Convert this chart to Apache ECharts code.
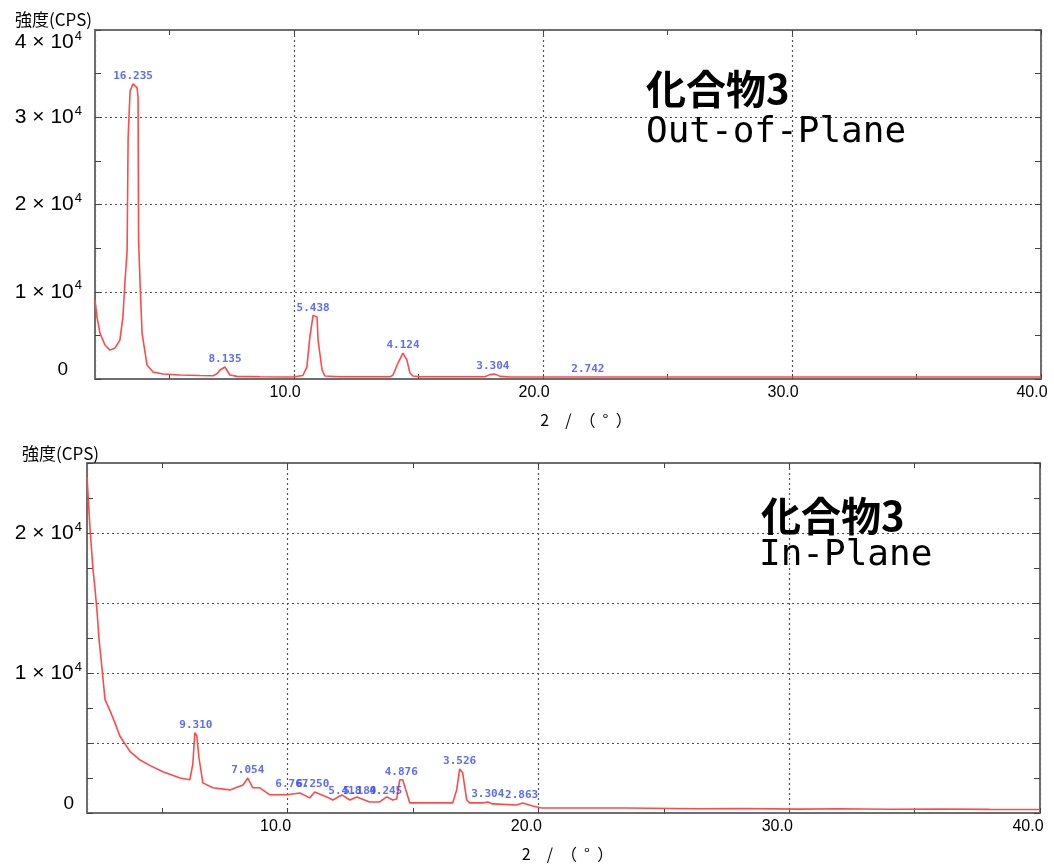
<!DOCTYPE html>
<html>
<head>
<meta charset="utf-8">
<script src="https://cdn.jsdelivr.net/npm/echarts@6/dist/echarts.min.js"></script>
<style>html,body{margin:0;padding:0;background:#fff}#c{width:1054px;height:866px}</style>
</head>
<body>
<div id="c"></div>
<script>
// ---- Out-of-Plane (top) ----
const opX = [2.00,2.08,2.20,2.40,2.60,2.80,3.00,3.12,3.20,3.29,3.33,3.41,3.53,3.69,3.73,3.75,3.81,3.89,4.09,4.33,4.73,5.41,6.22,6.74,6.90,7.02,7.22,7.42,7.70,8.63,9.95,10.35,10.51,10.63,10.76,10.92,10.96,11.12,11.24,11.84,13.85,13.97,14.17,14.37,14.53,14.65,14.77,15.05,17.66,17.86,18.07,18.27,18.67,22.0,26.0,30.0,34.0,40.0];
const opY = [9030,7090,5260,3890,3310,3540,4460,7090,10970,14700,27660,33030,33830,33370,32230,16000,10970,5260,1600,800,570,460,400,380,600,1030,1370,460,300,260,230,400,1370,4800,7300,7090,4460,1030,340,250,250,460,1830,2970,2170,690,340,250,250,500,560,300,230,230,230,230,230,230];
const opPeakX = [3.53,7.22,10.76,14.37,17.98,21.8];
const opPeakY = [33830,1370,7300,2970,560,230];
const opPeakText = ["16.235","8.135","5.438","4.124","3.304","2.742"];

// ---- In-Plane (bottom) ----
const ipX = [2.00,2.12,2.24,2.32,2.40,2.48,2.56,2.72,2.92,3.12,3.31,3.71,4.10,4.50,5.03,5.71,6.10,6.22,6.30,6.38,6.46,6.62,7.02,7.70,8.22,8.41,8.61,8.89,9.29,9.97,10.49,10.88,11.08,11.56,11.80,12.16,12.48,12.76,13.27,13.67,13.95,14.19,14.35,14.47,14.59,14.75,14.87,16.58,16.74,16.86,16.98,17.14,17.26,17.78,17.98,18.18,19.13,19.37,19.77,20.13,23.51,26.4,28.0,30.4,32.0,34.0,36.0,38.0,40.0];
const ipY = [24000,20300,17400,16000,14400,12400,11000,8100,7300,6400,5500,4400,3800,3400,2940,2500,2370,3500,5740,5500,4000,2150,1800,1650,2000,2500,1800,1800,1300,1300,1430,1080,1500,1150,930,1290,930,1150,790,790,1150,930,1000,2370,2370,1430,720,720,1650,3150,2870,930,720,720,790,650,570,720,500,360,360,300,320,280,300,270,290,260,250];
const ipPeakX = [6.34,8.41,10.17,11.00,12.28,12.88,13.91,14.53,16.86,17.98,19.33];
const ipPeakY = [5740,2500,1500,1500,1000,1000,1000,2370,3150,790,720];
const ipPeakText = ["9.310","7.054","6.767","6.250","5.418","5.189","4.245","4.876","3.526","3.304","2.863"];

// ---- axis ticks / labels ----
const xLabelValues = [10,20,30,40];
const xTickValues = [5,10,15,20,25,30,35,40];
const opYLabels = {0:"0",10000:"1",20000:"2",30000:"3",40000:"4"};
const ipYLabels = {0:"0",10000:"1",20000:"2"};
const xName = '2\u3000/\u3000\uff08  \u00b0  \uff09';

const chart = echarts.init(document.getElementById('c'));
const axisColor = '#6e6e6e';
const gridLine = {show:true, lineStyle:{color:'#555', type:[2,3], width:1.2}};
const yFmt = (map) => (v) => {
  const k = map[v];
  if (k === undefined) return '';
  if (k === '0') return '{z|0}';
  return '{n|' + k + ' \u00d7 10}{s|4}';
};
const yRich = (zeroPad) => ({
  n:{fontSize:21, fontFamily:'Liberation Sans', color:'#000'},
  s:{fontSize:13, fontFamily:'Liberation Sans', color:'#000', verticalAlign:'top', padding:[0,0,12,1]},
  z:{fontSize:19, fontFamily:'Liberation Sans', color:'#000', padding:[0,zeroPad,0,0]}
});

function xAxes(gi, namePad, labelShift){
  return [
    {gridIndex:gi, type:'value', min:2, max:40, position:'bottom',
     axisLine:{show:true, onZero:false, lineStyle:{color:axisColor, width:2}},
     axisTick:{show:true, inside:true, length:5, customValues:xTickValues, lineStyle:{color:'#444'}},
     axisLabel:{show:true, customValues:xLabelValues, formatter:(v)=>v.toFixed(1), fontSize:16, fontFamily:'Liberation Sans', color:'#000', margin:6, padding:[0,labelShift,0,0]},
     splitLine:{show:false},
     name:xName, nameLocation:'middle', nameGap:33,
     nameTextStyle:{fontSize:16, fontFamily:'Noto Sans CJK JP', color:'#000', padding:[0,0,0,namePad]}},
    {gridIndex:gi, type:'value', min:2, max:40, position:'top',
     axisLine:{show:true, onZero:false, lineStyle:{color:axisColor, width:2}},
     axisTick:{show:true, inside:true, length:5, customValues:xTickValues, lineStyle:{color:'#444'}},
     axisLabel:{show:false}, splitLine:{show:false}},
    {gridIndex:gi, type:'value', min:2, max:40, position:'bottom',
     axisLine:{show:false}, axisTick:{show:false}, axisLabel:{show:false},
     splitLine:gridLine}
  ];
}
function yAxes(gi, max, interval, labels, margin, zeroPad){
  return [
    {gridIndex:gi, type:'value', min:0, max:max, interval:interval, position:'left',
     axisLine:{show:true, lineStyle:{color:axisColor, width:2}},
     axisTick:{show:true, inside:true, length:6, lineStyle:{color:'#444'}},
     minorTick:{show:true, splitNumber:2, length:6, lineStyle:{color:'#444'}},
     axisLabel:{show:true, formatter:yFmt(labels), rich:yRich(zeroPad), margin:margin,
                verticalAlignMaxLabel:'top', verticalAlignMinLabel:'bottom'},
     splitLine:gridLine},
    {gridIndex:gi, type:'value', min:0, max:max, interval:interval, position:'right',
     axisLine:{show:true, lineStyle:{color:axisColor, width:2}},
     axisTick:{show:true, inside:true, length:6, lineStyle:{color:'#444'}},
     minorTick:{show:true, splitNumber:2, length:6, lineStyle:{color:'#444'}},
     axisLabel:{show:false}, splitLine:{show:false}}
  ];
}

const peakLabel = {show:true, position:'top', distance:2, formatter:(p)=>p.data[2],
  fontFamily:'DejaVu Sans Mono', fontSize:11, fontWeight:'bold', color:'#3346ff'};
const lineStyle = {color:'#ff4a4a', width:1.6};

const option = {
  backgroundColor:'#fff',
  animation:false,
  title:[
    {text:'強度(CPS)', left:10, top:6, textStyle:{fontSize:17, fontWeight:'normal', fontFamily:'Noto Sans CJK JP', color:'#000'}},
    {text:'強度(CPS)', left:17, top:440, textStyle:{fontSize:17, fontWeight:'normal', fontFamily:'Noto Sans CJK JP', color:'#000'}},
    {text:'化合物3', left:641, top:64, textStyle:{fontSize:40, fontWeight:'bold', fontFamily:'Noto Sans CJK JP', color:'#000'}},
    {text:'Out-of-Plane', left:641, top:110, textStyle:{fontSize:36, fontWeight:'normal', fontFamily:'DejaVu Sans Mono', color:'#000'}},
    {text:'化合物3', left:756, top:491, textStyle:{fontSize:40, fontWeight:'bold', fontFamily:'Noto Sans CJK JP', color:'#000'}},
    {text:'In-Plane', left:754, top:533, textStyle:{fontSize:36, fontWeight:'normal', fontFamily:'DejaVu Sans Mono', color:'#000'}}
  ],
  grid:[
    {left:95, top:30, right:13, height:349},
    {left:87, top:463, right:14, height:350}
  ],
  xAxis:[...xAxes(0, 36, 18), ...xAxes(1, 8, 24)],
  yAxis:[...yAxes(0, 40000, 10000, opYLabels, 13, 14), ...yAxes(1, 25000, 5000, ipYLabels, 5, 8)],
  series:[
    {type:'line', xAxisIndex:0, yAxisIndex:0, data:opX.map((x,i)=>[x,opY[i]]), showSymbol:false, symbol:'none', lineStyle:lineStyle, z:3},
    {type:'scatter', xAxisIndex:0, yAxisIndex:0, data:opPeakX.map((x,i)=>[x,opPeakY[i],opPeakText[i]]), symbolSize:0, label:peakLabel, z:4},
    {type:'line', xAxisIndex:3, yAxisIndex:2, data:ipX.map((x,i)=>[x,ipY[i]]), showSymbol:false, symbol:'none', lineStyle:lineStyle, z:3},
    {type:'scatter', xAxisIndex:3, yAxisIndex:2, data:ipPeakX.map((x,i)=>[x,ipPeakY[i],ipPeakText[i]]), symbolSize:0, label:peakLabel, z:4}
  ]
};
chart.setOption(option);
</script>
</body>
</html>
